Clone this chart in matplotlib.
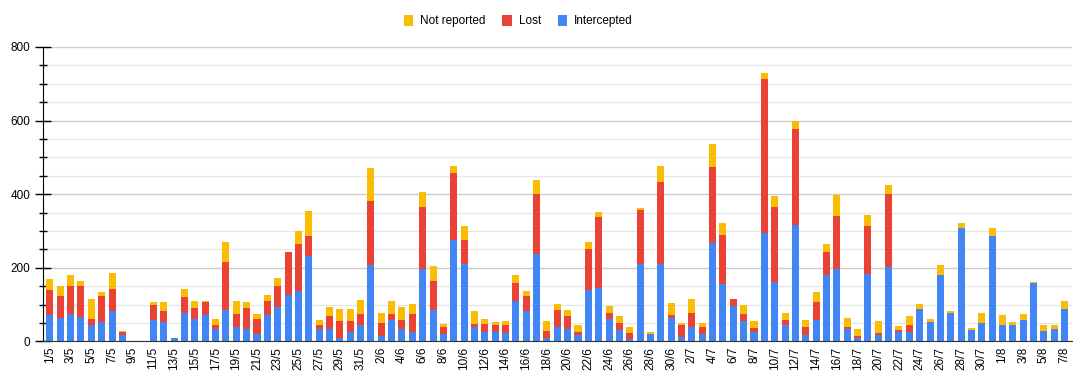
import matplotlib.pyplot as plt
import numpy as np
from matplotlib.ticker import MultipleLocator

plt.rcParams["font.family"] = ["Liberation Sans", "DejaVu Sans"]

# daily counts, 1 May - 7 Aug
months = [(5, 31), (6, 30), (7, 31), (8, 7)]
dates = [f"{d}/{m}" for m, n in months for d in range(1, n + 1)]

intercepted = [
    72, 64, 75, 66, 43, 53, 81, 17, 0, 0, 59, 53, 10, 77, 61, 72, 34, 86, 39, 34,
    21, 72, 92, 126, 137, 233, 34, 34, 10, 26, 43,
    207, 15, 59, 34, 26, 197, 86, 21, 276, 211, 39, 26, 26, 23, 110, 82, 238, 10, 39,
    34, 17, 140, 146, 61, 32, 6, 211, 21, 211, 64,
    12, 40, 21, 268, 157, 97, 55, 26, 295, 162, 43, 316, 17, 59, 179, 197, 34, 10, 184,
    17, 202, 26, 26, 88, 53, 180, 77, 309, 32, 50, 287,
    43, 45, 59, 158, 28, 34, 88,
]
lost = [
    68, 59, 74, 83, 18, 71, 62, 9, 0, 0, 41, 30, 0, 44, 30, 35, 9, 130, 35, 57,
    40, 38, 57, 117, 128, 53, 9, 36, 45, 29, 30,
    174, 35, 15, 25, 47, 168, 78, 18, 181, 65, 9, 22, 17, 20, 49, 42, 163, 18, 47,
    36, 9, 111, 192, 16, 18, 17, 146, 0, 222, 8,
    32, 38, 19, 207, 133, 19, 20, 9, 417, 204, 16, 260, 23, 49, 64, 144, 5, 5, 129,
    6, 198, 6, 19, 0, 0, 0, 0, 0, 0, 0, 0,
    0, 0, 0, 0, 0, 0, 0,
]
not_reported = [
    29, 26, 31, 16, 54, 10, 43, 3, 0, 0, 7, 24, 0, 21, 19, 3, 18, 54, 36, 16,
    13, 16, 24, 0, 34, 68, 15, 23, 33, 33, 39,
    89, 27, 36, 34, 28, 41, 40, 9, 20, 37, 34, 13, 10, 12, 21, 14, 37, 27, 15,
    15, 18, 19, 13, 20, 20, 16, 5, 3, 44, 32,
    6, 38, 10, 62, 32, 0, 24, 21, 16, 30, 18, 22, 18, 26, 21, 57, 24, 18, 29,
    32, 25, 10, 24, 13, 7, 27, 5, 13, 4, 27, 21,
    29, 8, 15, 3, 16, 10, 22,
]

YELLOW = "#fbbc04"
RED = "#ea4335"
BLUE = "#4285f4"

x = np.arange(len(dates))
intercepted = np.array(intercepted)
lost = np.array(lost)
not_reported = np.array(not_reported)

fig = plt.figure(figsize=(10.91, 3.79), dpi=100)
ax = fig.add_axes([0.0391, 0.0995, 0.9432, 0.7765])

w = 0.68
ax.bar(x, intercepted, w, color=BLUE, label="Intercepted", zorder=3)
ax.bar(x, lost, w, bottom=intercepted, color=RED, label="Lost", zorder=3)
ax.bar(x, not_reported, w, bottom=intercepted + lost, color=YELLOW,
       label="Not reported", zorder=3)

ax.set_xlim(-0.7, len(dates) - 1 + 0.68)
ax.set_ylim(0, 800)
ax.yaxis.set_major_locator(MultipleLocator(200))
ax.yaxis.set_minor_locator(MultipleLocator(50))
ax.grid(axis="y", which="major", color="#cccccc", linewidth=1.0, zorder=0)
ax.grid(axis="y", which="minor", color="#e6e6e6", linewidth=0.9, zorder=0)
ax.tick_params(axis="y", which="major", direction="inout", length=12, width=1,
               labelsize=8.5, pad=3)
ax.tick_params(axis="y", which="minor", direction="inout", length=6, width=1)

ax.set_xticks(x[::2])
ax.set_xticklabels(dates[::2], rotation=90, fontsize=8.5)
ax.tick_params(axis="x", length=0, pad=4)

for side in ("top", "right"):
    ax.spines[side].set_visible(False)
ax.spines["left"].set_color("black")
ax.spines["bottom"].set_color("#333333")
ax.spines["bottom"].set_zorder(4)

handles, labels = ax.get_legend_handles_labels()
order = [2, 1, 0]
fig.legend([handles[i] for i in order], [labels[i] for i in order],
           loc="center", bbox_to_anchor=(0.475, 0.945), ncol=3, frameon=False,
           fontsize=8.5, handlelength=0.8, handleheight=1.1, handletextpad=0.6,
           columnspacing=1.4)

fig.savefig("out.png", dpi=100, facecolor="white")
